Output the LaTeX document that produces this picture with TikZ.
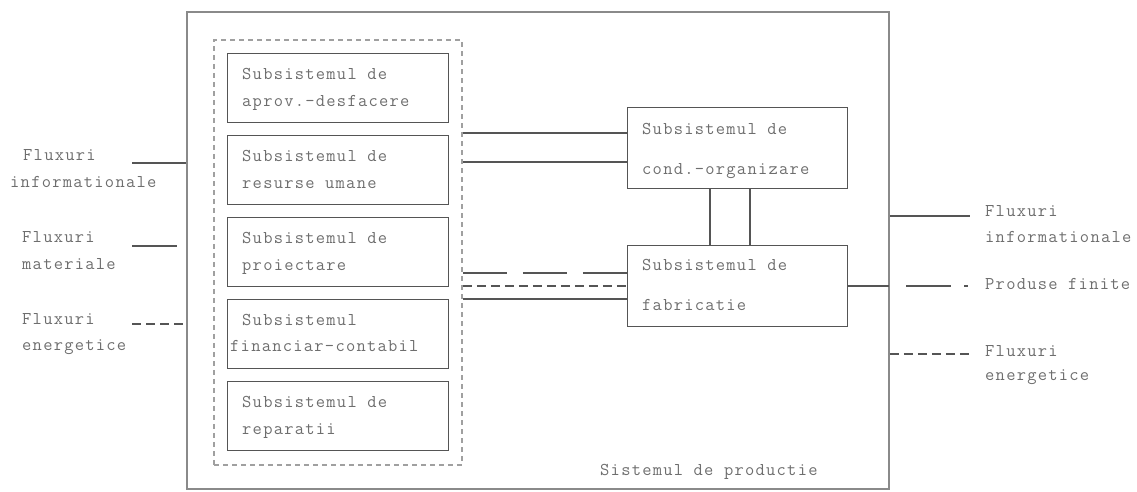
\documentclass[tikz,border=0pt]{standalone}
\usepackage{fontspec}
\newfontfamily\monofam[LetterSpace=7]{Latin Modern Mono}
\definecolor{linecol}{HTML}{555555}
\definecolor{framecol}{HTML}{8A8A8A}
\definecolor{groupcol}{HTML}{A0A0A0}
\definecolor{txtcol}{HTML}{6E6E6E}
\tikzset{
  sysframe/.style={draw=framecol, line width=1.8pt, anchor=north west, inner sep=0,
    minimum width=702pt, minimum height=477pt},
  grpframe/.style={draw=groupcol, line width=1.8pt, dash pattern=on 5pt off 4pt,
    anchor=north west, inner sep=0, minimum width=248pt, minimum height=425pt},
  blk/.style={draw=linecol, line width=1.3pt, anchor=north west, inner sep=0},
  leftblk/.style={blk, minimum width=221pt, minimum height=69pt},
  rightblk/.style={blk, minimum width=220pt, minimum height=81pt},
  txt/.style={font=\monofam\fontsize{18}{20}\selectfont, text=txtcol, anchor=mid west, inner sep=0},
  flow/.style={draw=linecol, line width=1.2pt},
  flowdash/.style={flow, dash pattern=on 9pt off 5pt},
  flowlong/.style={flow, dash pattern=on 44pt off 16pt}
}
\begin{document}
\begin{tikzpicture}[x=1pt, y=-1pt]
\useasboundingbox (0,0) rectangle (1137,491);

% production system frame and the dashed group of support subsystems
\node[sysframe] (sys) at (186,11) {};
\node[grpframe] (grp) at (213,39) {};

% left column of subsystems
\node[leftblk] (b1) at (227,53) {};
\node[leftblk] (b2) at (227,135) {};
\node[leftblk] (b3) at (227,217) {};
\node[leftblk] (b4) at (227,299) {};
\node[leftblk] (b5) at (227,381) {};

\node[txt] at ([shift={(15,24)}]b1.north west) {Subsistemul de};
\node[txt] at ([shift={(15,51)}]b1.north west) {aprov.-desfacere};
\node[txt] at ([shift={(15,24)}]b2.north west) {Subsistemul de};
\node[txt] at ([shift={(15,51)}]b2.north west) {resurse umane};
\node[txt] at ([shift={(15,24)}]b3.north west) {Subsistemul de};
\node[txt] at ([shift={(15,51)}]b3.north west) {proiectare};
\node[txt] at ([shift={(15,24)}]b4.north west) {Subsistemul};
\node[txt] at ([shift={(3,50)}]b4.north west) {financiar-contabil};
\node[txt] at ([shift={(15,24)}]b5.north west) {Subsistemul de};
\node[txt] at ([shift={(15,51)}]b5.north west) {reparatii};

% management and manufacturing subsystems
\node[rightblk] (cond) at (627,107) {};
\node[rightblk] (fabr) at (627,245) {};
\node[txt] at ([shift={(15,25)}]cond.north west) {Subsistemul de};
\node[txt] at ([shift={(15,65)}]cond.north west) {cond.-organizare};
\node[txt] at ([shift={(15,23)}]fabr.north west) {Subsistemul de};
\node[txt] at ([shift={(15,63)}]fabr.north west) {fabricatie};

\node[txt] (sysname) at (600,473) {Sistemul de productie};

% links between the group and the two subsystems
\draw[flow] (grp.east |- 0,133) -- (cond.west |- 0,133);
\draw[flow] (grp.east |- 0,162) -- (cond.west |- 0,162);
\draw[flow] (cond.south -| 710,0) -- (fabr.north -| 710,0);
\draw[flow] (cond.south -| 750,0) -- (fabr.north -| 750,0);
\draw[flowlong] (grp.east |- 0,273) -- (fabr.west |- 0,273);
\draw[flowdash] (grp.east |- 0,286) -- (fabr.west |- 0,286);
\draw[flow] (grp.east |- 0,299) -- (fabr.west |- 0,299);

% incoming flows
\coordinate (inInfo) at (132,163);
\coordinate (inMat) at (132,246);
\coordinate (inMatEnd) at (177,246);
\coordinate (inEn) at (132,324);
\draw[flow] (inInfo) -- (sys.west |- inInfo);
\draw[flow] (inMat) -- (inMatEnd);
\draw[flowdash] (inEn) -- (sys.west |- inEn);

\node[txt] at (23,158) {Fluxuri};
\node[txt] at (10,185) {informationale};
\node[txt] at (22,240) {Fluxuri};
\node[txt] at (22,267) {materiale};
\node[txt] at (22,322) {Fluxuri};
\node[txt] at (22,348) {energetice};

% outgoing flows
\coordinate (outInfo) at (970,216);
\coordinate (outProd) at (968,286);
\coordinate (outEn) at (970,354);
\draw[flow] (sys.east |- outInfo) -- (outInfo);
\draw[flow, dash pattern=on 41pt off 17pt on 45pt off 13pt on 5pt off 60pt]
  (fabr.east |- outProd) -- (outProd);
\draw[flowdash] (sys.east |- outEn) -- (outEn);

\node[txt] at (985,214) {Fluxuri};
\node[txt] at (985,240) {informationale};
\node[txt] at (985,287) {Produse finite};
\node[txt] at (985,354) {Fluxuri};
\node[txt] at (985,378) {energetice};
\end{tikzpicture}
\end{document}
